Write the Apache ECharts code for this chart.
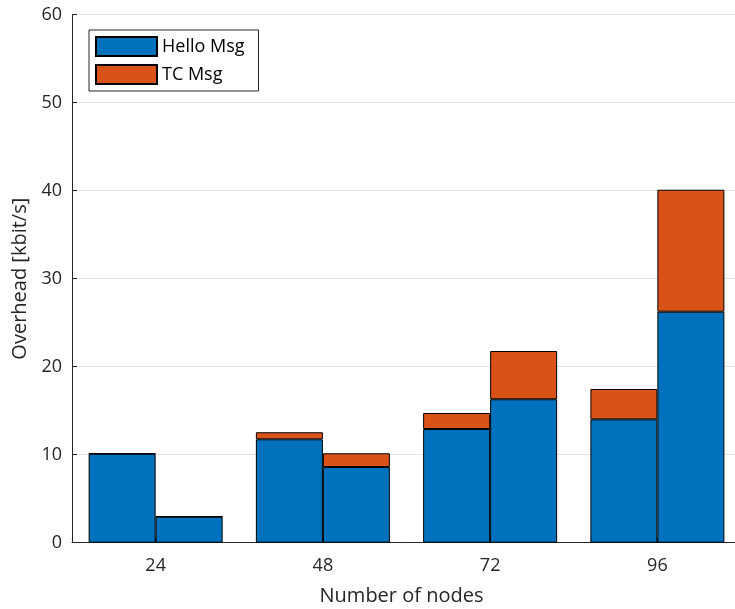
<!DOCTYPE html>
<html>
<head>
<meta charset="utf-8">
<script src="https://cdn.jsdelivr.net/npm/echarts@6/dist/echarts.min.js"></script>
<style>
  html, body { margin: 0; padding: 0; background: #fff; }
  #chart { width: 735px; height: 609px; }
</style>
</head>
<body>
<div id="chart"></div>
<script>
// Network size groups on the x axis
const categories = ['24', '48', '72', '96'];
// Left bar of each group
const helloLeft = [10.1, 11.75, 12.92, 14.02];
const tcLeft = [0.06, 0.8, 1.82, 3.45];
// Right bar of each group
const helloRight = [2.95, 8.6, 16.3, 26.25];
const tcRight = [0.03, 1.56, 5.48, 13.86];
// Value axis ticks
const yTicks = [0, 10, 20, 30, 40, 50, 60];

const FONT = 'Open Sans';
const INK = '#262626';
const BLUE = '#0072BD';
const ORANGE = '#D95319';

function barSeries(name, stack, values, color) {
  return {
    name: name,
    type: 'bar',
    stack: stack,
    data: values,
    barWidth: 67,
    barGap: '0%',
    itemStyle: { color: color, borderColor: '#000', borderWidth: 1 },
    emphasis: { disabled: true }
  };
}

const chart = echarts.init(document.getElementById('chart'), null, { renderer: 'canvas' });
chart.setOption({
  animation: false,
  backgroundColor: '#fff',
  textStyle: { fontFamily: FONT },
  // the plot box runs a few pixels past the right edge of the canvas
  grid: { left: 72, top: 14.7, width: 669, height: 528, outerBoundsMode: 'none', containLabel: false },
  legend: {
    orient: 'vertical',
    left: 89,
    top: 30,
    data: ['Hello Msg', 'TC Msg'],
    icon: 'rect',
    itemWidth: 61,
    itemHeight: 19,
    itemGap: 7,
    padding: [6, 14, 6, 6],
    backgroundColor: '#fff',
    borderColor: INK,
    borderWidth: 1,
    borderRadius: 0,
    selectedMode: false,
    textStyle: { fontFamily: FONT, fontSize: 18, color: '#000', lineHeight: 19 }
  },
  xAxis: {
    type: 'category',
    data: categories,
    name: 'Number of nodes',
    nameLocation: 'middle',
    nameGap: 44,
    nameTextStyle: { fontFamily: FONT, fontSize: 20, color: INK, padding: [0, 10, 0, 0] },
    axisLine: { show: true, lineStyle: { color: INK, width: 1 } },
    axisTick: { show: true, inside: true, alignWithLabel: true, length: 5, lineStyle: { color: INK } },
    axisLabel: { fontFamily: FONT, fontSize: 18, color: INK, margin: 14 },
    splitLine: { show: false }
  },
  yAxis: {
    type: 'value',
    min: yTicks[0],
    max: yTicks[yTicks.length - 1],
    interval: yTicks[1] - yTicks[0],
    name: 'Overhead [kbit/s]',
    nameLocation: 'middle',
    nameGap: 41,
    nameRotate: 90,
    nameTextStyle: { fontFamily: FONT, fontSize: 20, color: INK },
    axisLine: { show: true, lineStyle: { color: INK, width: 1 } },
    axisTick: { show: true, inside: true, length: 5, lineStyle: { color: INK } },
    axisLabel: { fontFamily: FONT, fontSize: 18, color: INK, margin: 10 },
    splitLine: { show: true, lineStyle: { color: '#e3e3e3', width: 1 } }
  },
  series: [
    barSeries('Hello Msg', 'left', helloLeft, BLUE),
    barSeries('TC Msg', 'left', tcLeft, ORANGE),
    barSeries('Hello Msg', 'right', helloRight, BLUE),
    barSeries('TC Msg', 'right', tcRight, ORANGE)
  ]
});
</script>
</body>
</html>
